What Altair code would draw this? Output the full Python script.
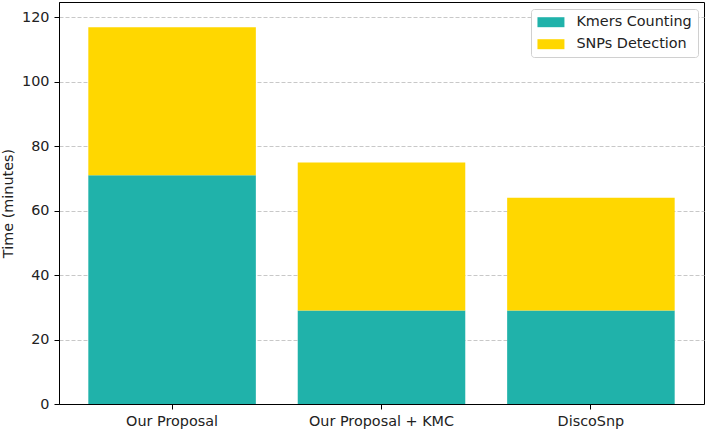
import altair as alt
import pandas as pd

# Run time per pipeline, split by stage (minutes)
methods = ["Our Proposal", "Our Proposal + KMC", "DiscoSnp"]
kmers_counting = [71, 29, 29]
snps_detection = [46, 46, 35]
stages = ["Kmers Counting", "SNPs Detection"]
stage_colors = ["#20B2AA", "#FFD700"]
y_ticks = [0, 20, 40, 60, 80, 100, 120]

rows = []
for i, m in enumerate(methods):
    rows.append({"method": m, "stage": stages[0], "minutes": kmers_counting[i], "rank": 0})
    rows.append({"method": m, "stage": stages[1], "minutes": snps_detection[i], "rank": 1})
df = pd.DataFrame(rows)

FONT = "DejaVu Sans"
TEXT = "#222222"
FS = 14.4

chart = (
    alt.Chart(df)
    .mark_bar()
    .encode(
        x=alt.X(
            "method:N",
            sort=methods,
            title=None,
            scale=alt.Scale(paddingInner=0.2, paddingOuter=0.14),
            axis=alt.Axis(
                labelAngle=0,
                grid=False,
                ticks=True,
                tickSize=5,
                tickColor="black",
                domainColor="black",
                labelFontSize=FS,
                labelPadding=5,
                labelColor=TEXT,
                labelFont=FONT,
            ),
        ),
        y=alt.Y(
            "minutes:Q",
            stack="zero",
            title="Time (minutes)",
            scale=alt.Scale(domain=[0, 124.8], nice=False, zero=True),
            axis=alt.Axis(
                values=y_ticks,
                grid=True,
                gridDash=[4, 2],
                gridColor="#c8c8c8",
                gridWidth=1,
                tickSize=5,
                tickColor="black",
                domainColor="black",
                labelFontSize=FS,
                labelPadding=5,
                labelColor=TEXT,
                labelFont=FONT,
                titleFontSize=FS,
                titleFontWeight="normal",
                titleFont=FONT,
                titleColor=TEXT,
                titlePadding=6,
            ),
        ),
        color=alt.Color(
            "stage:N",
            scale=alt.Scale(domain=stages, range=stage_colors),
            legend=alt.Legend(
                title=None,
                orient="none",
                legendX=472,
                legendY=7,
                direction="vertical",
                # wide flat swatch, offset so it starts at the legend's inner edge
                symbolType="M-1,-0.74L3,-0.74L3,0.74L-1,0.74Z",
                symbolSize=182,
                symbolStrokeWidth=0,
                symbolOpacity=1,
                labelFontSize=FS,
                labelFont=FONT,
                labelColor=TEXT,
                labelOffset=25,
                rowPadding=7,
                padding=6,
                fillColor="white",
                strokeColor="#d0d0d0",
                cornerRadius=3,
            ),
        ),
        order=alt.Order("rank:Q"),
    )
    .properties(
        width=645,
        height=402,
        autosize="none",
        background="white",
        padding={"left": 59, "top": 2, "right": 5, "bottom": 26},
    )
    .configure_view(stroke="black", strokeWidth=1)
)

chart.save("out.html", embed_options={"renderer": "svg", "actions": False})
